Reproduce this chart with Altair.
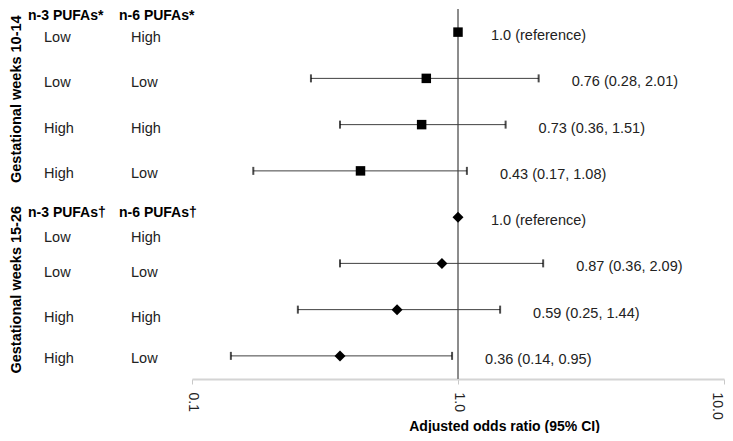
import altair as alt
import pandas as pd

# ---- data ----
group_titles = ["Gestational weeks 10-14", "Gestational weeks 15-26"]
group_title_rows = [2.45, 6.57]
header_n3 = ["n-3 PUFAs*", "n-3 PUFAs†"]
header_n6 = ["n-6 PUFAs*", "n-6 PUFAs†"]
header_rows = [0.66, 4.91]

n3_levels = ["Low", "Low", "High", "High", "Low", "Low", "High", "High"]
n6_levels = ["High", "Low", "High", "Low", "High", "Low", "High", "Low"]
label_rows = [1.13, 2.1, 3.09, 4.07, 5.45, 6.21, 7.18, 8.07]

rows = [1, 2, 3, 4, 5, 6, 7, 8]
marker_shape = ["square", "square", "square", "square",
                "diamond", "diamond", "diamond", "diamond"]
odds_ratio = [1.0, 0.76, 0.73, 0.43, 1.0, 0.87, 0.59, 0.36]
ci_lower = [None, 0.28, 0.36, 0.17, None, 0.36, 0.25, 0.14]
ci_upper = [None, 2.01, 1.51, 1.08, None, 2.09, 1.44, 0.95]
result_labels = ["1.0 (reference)", "0.76 (0.28, 2.01)", "0.73 (0.36, 1.51)",
                 "0.43 (0.17, 1.08)", "1.0 (reference)", "0.87 (0.36, 2.09)",
                 "0.59 (0.25, 1.44)", "0.36 (0.14, 0.95)"]
x_ticks = [0.1, 1.0, 10.0]
x_title = "Adjusted odds ratio (95% CI)"

FONT = "Liberation Sans"

# ---- tables ----
est = pd.DataFrame({
    "row": rows, "shape": marker_shape, "or": odds_ratio,
    "lower": ci_lower, "upper": ci_upper, "label": result_labels,
})
est["anchor"] = est["upper"].fillna(est["or"])
ci = est.dropna(subset=["lower"])

levels = pd.concat([
    pd.DataFrame({"col": "n-3", "text": n3_levels, "row": label_rows}),
    pd.DataFrame({"col": "n-6", "text": n6_levels, "row": label_rows}),
])
headers = pd.concat([
    pd.DataFrame({"col": "n-3", "text": header_n3, "row": header_rows}),
    pd.DataFrame({"col": "n-6", "text": header_n6, "row": header_rows}),
])
gtitles = pd.DataFrame({"col": "n-3", "text": group_titles, "row": group_title_rows})

W_LEFT, W_RIGHT, H = 183, 532, 370

yscale = alt.Scale(domain=[0.5, 8.5], reverse=True, nice=False, zero=False)
Yrow = alt.Y("row:Q", scale=yscale, axis=None)
Xcol = alt.X("col:N", scale=alt.Scale(domain=["n-3", "n-6"], range=[35, 122], padding=0), axis=None)

# ---- left panel: labels ----
lv = alt.Chart(levels).mark_text(align="left", baseline="middle", font=FONT,
                                  fontSize=14.5, color="#222222").encode(x=Xcol, y=Yrow, text="text:N")
h3 = alt.Chart(headers).transform_filter(alt.datum.col == "n-3").mark_text(
    align="left", baseline="middle", font=FONT, fontSize=14, fontWeight="bold",
    color="black", dx=-16).encode(x=Xcol, y=Yrow, text="text:N")
h6 = alt.Chart(headers).transform_filter(alt.datum.col == "n-6").mark_text(
    align="left", baseline="middle", font=FONT, fontSize=14, fontWeight="bold",
    color="black", dx=-12).encode(x=Xcol, y=Yrow, text="text:N")
gt = alt.Chart(gtitles).mark_text(align="center", baseline="middle", font=FONT,
                                  fontSize=14.5, fontWeight="bold", color="black",
                                  angle=270, dy=-27).encode(x=Xcol, y=Yrow, text="text:N")
left = alt.layer(lv, h3, h6, gt).properties(width=W_LEFT, height=H)

# ---- right panel: forest plot ----
xscale = alt.Scale(type="log", domain=[0.1, 10], nice=False)
xaxis = alt.Axis(values=x_ticks, format=".1f", labelAngle=90, labelFontSize=14,
                 labelFont=FONT, labelColor="#222222", labelPadding=8, labelFlush=False,
                 labelOffset={"condition": {"test": "datum.value >= 10", "value": -8}, "value": 0},
                 tickSize=5, tickColor="#c8c8c8", domainColor="#d4d4d4", domainWidth=2,
                 grid=False, title=x_title, titleFont=FONT, titleFontSize=14,
                 titleFontWeight="bold", titleColor="black", titleX=312, titleY=51,
                 titleAlign="center", titleBaseline="alphabetic")

ref = alt.Chart(est).mark_rule(color="#8c8c8c", strokeWidth=1).encode(
    x=alt.X(datum=1.0, type="quantitative", scale=xscale, axis=xaxis))
bars = alt.Chart(ci).mark_rule(color="#404040", strokeWidth=1).encode(
    x=alt.X("lower:Q", scale=xscale, axis=xaxis), x2="upper:Q", y=Yrow)
caps = alt.Chart(ci).transform_fold(["lower", "upper"], as_=["end", "val"]).mark_tick(
    orient="vertical", size=8, thickness=2, color="black").encode(
    x=alt.X("val:Q", scale=xscale, axis=xaxis), y=Yrow)
pts = alt.Chart(est).mark_point(filled=True, color="black", opacity=1).encode(
    x=alt.X("or:Q", scale=xscale, axis=xaxis), y=Yrow,
    shape=alt.Shape("shape:N", scale=None),
    size=alt.Size("shape:N", scale=alt.Scale(domain=["square", "diamond"], range=[90, 121]), legend=None))
txt = alt.Chart(est).mark_text(align="left", baseline="middle", dx=33, dy=4, font=FONT,
                               fontSize=14.5, color="#222222").encode(
    x=alt.X("anchor:Q", scale=xscale, axis=xaxis), y=Yrow, text="label:N")

right = alt.layer(ref, bars, caps, pts, txt).properties(width=W_RIGHT, height=H)

chart = alt.hconcat(left, right, spacing=0, bounds="flush", padding=0).configure_view(stroke=None)

chart.save("out.html", embed_options={"renderer": "svg", "actions": False})
